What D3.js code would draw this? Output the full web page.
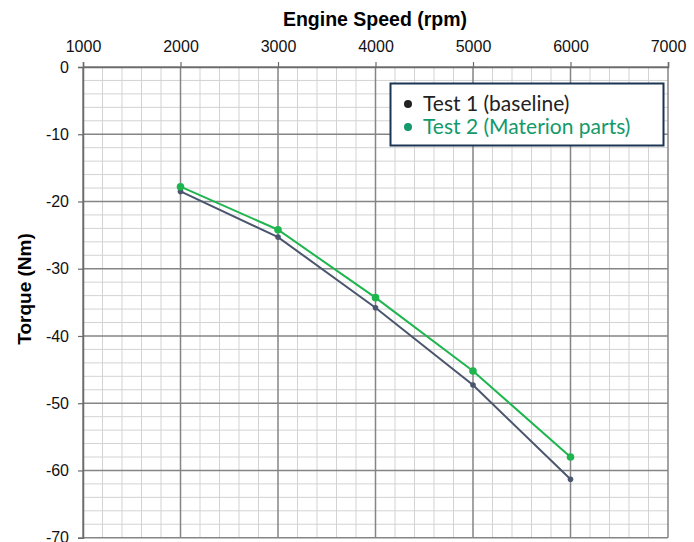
<!DOCTYPE html>
<html>
<head>
<meta charset="utf-8">
<script src="https://cdn.jsdelivr.net/npm/d3@7"></script>
<style>
  body { margin: 0; background: #fff; }
  svg { display: block; }
</style>
</head>
<body>
<script>
const speeds = [2000, 3000, 4000, 5000, 6000]
const test1 = [-18.5, -25.3, -35.8, -47.3, -61.3]
const test2 = [-17.8, -24.2, -34.3, -45.2, -58.0]
const seriesNames = ["Test 1 (baseline)", "Test 2 (Materion parts)"]
const xTicks = [1000, 2000, 3000, 4000, 5000, 6000, 7000]
const yTicks = [0, -10, -20, -30, -40, -50, -60, -70]

function drawChart() {
    const width = 694
    const height = 542
    const left = 83, right = 668, top = 67, bottom = 537.7

    const x = d3.scaleLinear().domain([1000, 7000]).range([left, right])
    const y = d3.scaleLinear().domain([0, -70]).range([top, bottom])

    const svg = d3.select("body").append("svg")
        .attr("width", width)
        .attr("height", height)

    // minor grid, every 200 rpm and 2 Nm
    const minorX = d3.range(1000, 7001, 200).filter(v => v % 1000 != 0)
    const minorY = d3.range(0, -70.1, -2).filter(v => v % 10 != 0)
    svg.append("g")
        .attr("stroke", "#d3d3d3")
        .attr("stroke-width", 1)
        .selectAll("line")
        .data(minorX)
        .join("line")
        .attr("x1", d => x(d)).attr("x2", d => x(d))
        .attr("y1", top).attr("y2", bottom)
    svg.append("g")
        .attr("stroke", "#d3d3d3")
        .attr("stroke-width", 1)
        .selectAll("line")
        .data(minorY)
        .join("line")
        .attr("y1", d => y(d)).attr("y2", d => y(d))
        .attr("x1", left).attr("x2", right)

    // major grid
    svg.append("g")
        .attr("stroke", "#858585")
        .attr("stroke-width", 1.5)
        .selectAll("line")
        .data(xTicks)
        .join("line")
        .attr("x1", d => x(d)).attr("x2", d => x(d))
        .attr("y1", top).attr("y2", bottom)
    svg.append("g")
        .attr("stroke", "#858585")
        .attr("stroke-width", 1.5)
        .selectAll("line")
        .data(yTicks)
        .join("line")
        .attr("y1", d => y(d)).attr("y2", d => y(d))
        .attr("x1", left).attr("x2", right)

    // axes (plain hyphen for minus like the original)
    const fmt = d => String(d)
    const xAxis = svg.append("g")
        .attr("transform", `translate(0,${top})`)
        .call(d3.axisTop(x).tickValues(xTicks).tickSize(5).tickPadding(10).tickFormat(fmt))
    const yAxis = svg.append("g")
        .attr("transform", `translate(${left},0)`)
        .call(d3.axisLeft(y).tickValues(yTicks).tickSize(5).tickPadding(9).tickFormat(fmt))

    for (const ax of [xAxis, yAxis]) {
        ax.attr("font-size", null).attr("font-family", null)
        ax.select(".domain").attr("stroke", "#6a6a6a").attr("stroke-width", 1.5)
        ax.selectAll(".tick line").attr("stroke", "#6a6a6a").attr("stroke-width", 1.2)
        ax.selectAll(".tick text")
            .attr("fill", "#111")
            .style("font-family", "Liberation Sans, Arial, sans-serif")
            .style("font-size", "16px")
    }

    // titles
    svg.append("text")
        .attr("x", 375).attr("y", 26)
        .attr("text-anchor", "middle")
        .style("font-family", "Liberation Sans, Arial, sans-serif")
        .style("font-weight", "bold")
        .style("font-size", "19.5px")
        .text("Engine Speed (rpm)")
    svg.append("text")
        .attr("transform", `translate(31,289) rotate(-90)`)
        .attr("text-anchor", "middle")
        .style("font-family", "Liberation Sans, Arial, sans-serif")
        .style("font-weight", "bold")
        .style("font-size", "19px")
        .text("Torque (Nm)")

    // series
    const series = [
        { name: seriesNames[0], values: test1, color: "#4b566e", r: 2.8, text: "#222222" },
        { name: seriesNames[1], values: test2, color: "#1fb54e", r: 3.8, text: "#13996a" }
    ]
    const line = d3.line()
        .x((d, i) => x(speeds[i]))
        .y(d => y(d))

    series.forEach(s => {
        svg.append("path")
            .datum(s.values)
            .attr("fill", "none")
            .attr("stroke", s.color)
            .attr("stroke-width", 2)
            .attr("d", line)
        svg.append("g")
            .selectAll("circle")
            .data(s.values)
            .join("circle")
            .attr("cx", (d, i) => x(speeds[i]))
            .attr("cy", d => y(d))
            .attr("r", s.r)
            .attr("fill", s.color)
    })

    // legend
    const legend = svg.append("g")
    legend.append("rect")
        .attr("x", 390.5).attr("y", 83.5)
        .attr("width", 273).attr("height", 62)
        .attr("fill", "#fff")
        .attr("stroke", "#1c3553")
        .attr("stroke-width", 2)
    series.forEach((s, i) => {
        legend.append("circle")
            .attr("cx", 408).attr("cy", 104 + i * 23)
            .attr("r", 4)
            .attr("fill", s.text)
        legend.append("text")
            .attr("x", 423).attr("y", 110.5 + i * 23)
            .attr("fill", s.text)
            .style("font-family", "Lato, sans-serif")
            .style("font-size", "21px")
            .text(s.name)
    })
}

drawChart()
</script>
</body>
</html>
